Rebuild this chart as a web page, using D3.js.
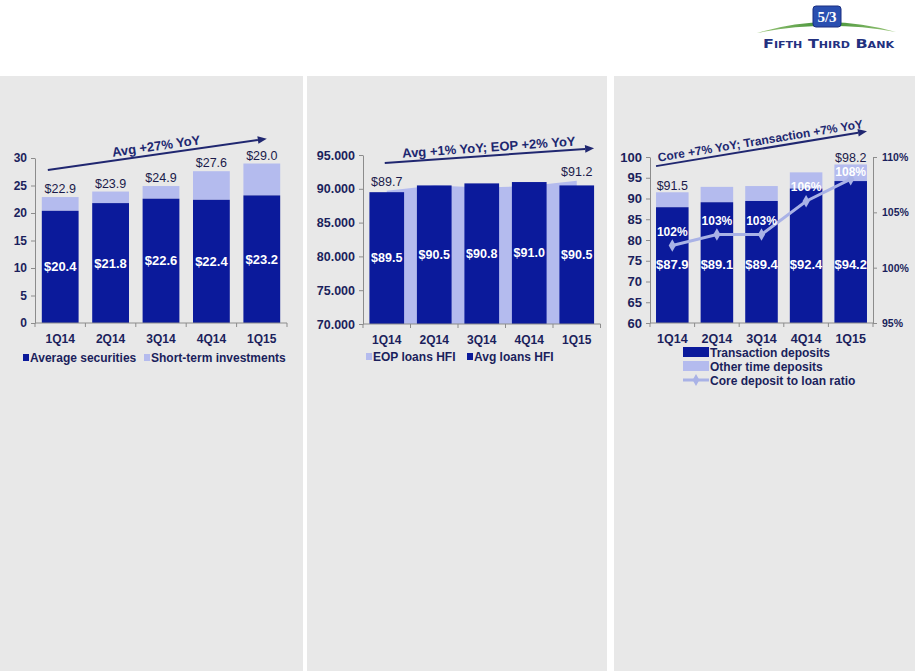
<!DOCTYPE html>
<html><head><meta charset="utf-8">
<script src="https://cdn.jsdelivr.net/npm/d3@7"></script>
<style>body{margin:0;background:#fff;} svg{display:block;}</style>
</head><body>
<svg id="c" width="915" height="671"></svg>
<script>
// ---------- DATA ----------
const quarters = ["1Q14","2Q14","3Q14","4Q14","1Q15"];

// Chart 1: securities
const avgSecurities   = [20.4, 21.8, 22.6, 22.4, 23.2];
const shortTermInv    = [2.5, 2.1, 2.3, 5.2, 5.8];
const totalSecurities = [22.9, 23.9, 24.9, 27.6, 29.0];
const secTicks        = [0, 5, 10, 15, 20, 25, 30];
const secTickLabels   = ["0","5","10","15","20","25","30"];

// Chart 2: loans
const avgLoans        = [89.5, 90.5, 90.8, 91.0, 90.5];
const eopLoans        = [89.7, 90.5, 90.2, 90.4, 91.2];
const eopLabelIdx     = [0, 4];
const loanTicks       = [70, 75, 80, 85, 90, 95];
const loanTickLabels  = ["70.000","75.000","80.000","85.000","90.000","95.000"];

// Chart 3: deposits
const transactionDep  = [87.9, 89.1, 89.4, 92.4, 94.2];
const otherTimeDep    = [3.6, 3.7, 3.6, 3.9, 4.0];
const depositTotals   = [91.5, 92.8, 93.0, 96.3, 98.2];
const depTotalLabelIdx = [0, 4];
const coreRatio       = [102, 103, 103, 106, 108];
const ratioLabels     = ["102%","103%","103%","106%","108%"];
const depTicks        = [60, 65, 70, 75, 80, 85, 90, 95, 100];
const depTickLabels   = ["60","65","70","75","80","85","90","95","100"];
const ratioTicks      = [95, 100, 105, 110];
const ratioTickLabels = ["95%","100%","105%","110%"];

// ---------- STYLE ----------
const C = {dark:"#0b1a9b", light:"#b4bbee", line:"#a9b2e6", navy:"#1b1f5c",
           total:"#1a1a4a", axis:"#8c8c8c", arrow:"#202770", panel:"#e8e8e8"};
const FONT = '"Liberation Sans", Arial, Helvetica, sans-serif';
const fmt1 = d3.format(".1f");

const svg = d3.select("#c").attr("font-family", FONT);

// panels
[[0,303],[307,607],[614,915]].forEach(([a,b]) =>
  svg.append("rect").attr("x",a).attr("y",76).attr("width",b-a).attr("height",671-76).attr("fill",C.panel));

// ---------- LOGO ----------
const logo = svg.append("g");
const grad = svg.append("defs").append("linearGradient").attr("id","sw").attr("x1","0").attr("x2","1");
grad.append("stop").attr("offset","0").attr("stop-color","#9cc77a");
grad.append("stop").attr("offset","0.5").attr("stop-color","#3f8f33");
grad.append("stop").attr("offset","1").attr("stop-color","#9cc77a");
logo.append("path").attr("d","M757,33 Q826,12 896,32 Q826,19 757,33 Z").attr("fill","url(#sw)");
logo.append("rect").attr("x",813).attr("y",6).attr("width",28).attr("height",21).attr("rx",3)
  .attr("fill","#2a4fb0").attr("stroke","#1a2f80").attr("stroke-width",1);
logo.append("text").attr("x",827).attr("y",22).attr("text-anchor","middle")
  .attr("font-family","'Liberation Serif', serif").attr("font-weight","bold").attr("font-size",15)
  .attr("fill","#fff").text("5/3");
logo.append("text").attr("x",763).attr("y",48).attr("textLength",131).attr("lengthAdjust","spacingAndGlyphs")
  .attr("font-family","'DejaVu Sans', sans-serif").attr("font-size",13).attr("font-weight","bold")
  .attr("font-variant","small-caps").attr("fill","#23317f").text("Fifth Third Bank");

// ---------- HELPERS ----------
function yAxis(g, y, x0, ticks, labels, side, fs){
  const ax = (side === "left" ? d3.axisLeft(y) : d3.axisRight(y))
    .tickValues(ticks).tickFormat((d,i) => labels[i]).tickSize(4).tickSizeOuter(0).tickPadding(side==="left"?4:5);
  const a = g.append("g").attr("transform", `translate(${x0},0)`).call(ax);
  a.select(".domain").attr("stroke", C.axis);
  a.selectAll(".tick line").attr("stroke", C.axis);
  a.selectAll(".tick text").attr("fill", C.navy).attr("font-weight","bold")
    .attr("font-size", fs).attr("font-family", FONT);
}
function xAxis(g, x, y0, fs){
  const [r0, r1] = x.range();
  g.append("line").attr("x1",r0).attr("x2",r1).attr("y1",y0).attr("y2",y0).attr("stroke",C.axis);
  const step = x.step();
  g.selectAll(null).data(d3.range(x.domain().length + 1)).join("line")
    .attr("x1", i => r0 + i*step).attr("x2", i => r0 + i*step)
    .attr("y1", y0).attr("y2", y0 + 4).attr("stroke", C.axis);
  g.selectAll(null).data(x.domain()).join("text")
    .attr("x", d => x(d) + x.bandwidth()/2).attr("y", y0 + 20)
    .attr("text-anchor","middle").attr("font-size", fs).attr("font-weight","bold")
    .attr("fill", C.navy).text(d => d);
}
function arrow(g, x1, y1, x2, y2, text, fs){
  const ang = Math.atan2(y2 - y1, x2 - x1), deg = ang * 180 / Math.PI;
  const L = 9, W = 3.8;
  const xe = x2 - L*Math.cos(ang), ye = y2 - L*Math.sin(ang);
  const px = -Math.sin(ang), py = Math.cos(ang);
  g.append("line").attr("x1",x1).attr("y1",y1).attr("x2",xe).attr("y2",ye)
    .attr("stroke",C.arrow).attr("stroke-width",2);
  g.append("polygon").attr("points",
    [[x2,y2],[xe+W*px, ye+W*py],[xe-W*px, ye-W*py]].map(p => p.join(",")).join(" "))
    .attr("fill",C.arrow);
  g.append("text").attr("transform",`translate(${(x1+x2)/2},${(y1+y2)/2}) rotate(${deg})`)
    .attr("y",-4).attr("text-anchor","middle").attr("font-size",fs).attr("font-weight","bold")
    .attr("fill",C.arrow).text(text);
}
function band(range){
  return d3.scaleBand().domain(quarters).range(range).paddingInner(0.27).paddingOuter(0.135);
}

// ---------- CHART 1 ----------
{
  const g = svg.append("g");
  const x = band([35, 287]);
  const y = d3.scaleLinear().domain([0, 30]).range([323, 158]);
  const bw = x.bandwidth();
  const rows = quarters.map((q,i) => ({q, a:avgSecurities[i], s:shortTermInv[i], t:totalSecurities[i]}));
  g.selectAll(null).data(rows).join("rect")
    .attr("x", d => x(d.q)).attr("width", bw)
    .attr("y", d => y(d.a + d.s)).attr("height", d => y(d.a) - y(d.a + d.s)).attr("fill", C.light);
  g.selectAll(null).data(rows).join("rect")
    .attr("x", d => x(d.q)).attr("width", bw)
    .attr("y", d => y(d.a)).attr("height", d => y(0) - y(d.a)).attr("fill", C.dark);
  yAxis(g, y, 35, secTicks, secTickLabels, "left", 12);
  xAxis(g, x, y(0), 12);
  g.selectAll(null).data(rows).join("text")
    .attr("x", d => x(d.q) + bw/2).attr("y", d => y(d.a/2)).attr("dy","0.35em")
    .attr("text-anchor","middle").attr("font-size",13).attr("font-weight","bold").attr("fill","#fff")
    .text(d => "$" + fmt1(d.a));
  g.selectAll(null).data(rows).join("text")
    .attr("x", d => x(d.q) + bw/2).attr("y", d => y(d.t) - 4)
    .attr("text-anchor","middle").attr("font-size",12.5).attr("fill",C.total)
    .text(d => "$" + fmt1(d.t));
  arrow(g, x("1Q14") + 6, y(27.8), x("1Q15") + bw/2 + 5, y(33.5), "Avg +27% YoY", 13);
  // legend
  const ly = 358;
  const leg = [{c:C.dark, t:"Average securities", x:23}, {c:C.light, t:"Short-term investments", x:144}];
  leg.forEach(l => {
    g.append("rect").attr("x", l.x).attr("y", ly - 4).attr("width", 6).attr("height", 7).attr("fill", l.c);
    g.append("text").attr("x", l.x + 7).attr("y", ly + 4).attr("font-size", 12).attr("font-weight","bold")
      .attr("fill", C.navy).text(l.t);
  });
}

// ---------- CHART 2 ----------
{
  const g = svg.append("g");
  const x = band([363, 600.5]);
  const y = d3.scaleLinear().domain([70, 95]).range([324, 155]);
  const bw = x.bandwidth();
  const cx = q => x(q) + bw/2;
  const rows = quarters.map((q,i) => ({q, a:avgLoans[i], e:eopLoans[i]}));
  g.append("path").datum(rows)
    .attr("d", d3.area().x(d => cx(d.q)).y0(y(70)).y1(d => y(d.e)))
    .attr("fill", C.light);
  g.selectAll(null).data(rows).join("rect")
    .attr("x", d => x(d.q)).attr("width", bw)
    .attr("y", d => y(d.a)).attr("height", d => y(70) - y(d.a)).attr("fill", C.dark);
  yAxis(g, y, 363, loanTicks, loanTickLabels, "left", 12.5);
  xAxis(g, x, y(70), 12);
  g.selectAll(null).data(rows).join("text")
    .attr("x", d => cx(d.q)).attr("y", d => y((70 + d.a)/2)).attr("dy","0.35em")
    .attr("text-anchor","middle").attr("font-size",12.5).attr("font-weight","bold").attr("fill","#fff")
    .text(d => "$" + fmt1(d.a));
  g.selectAll(null).data(eopLabelIdx.map(i => rows[i])).join("text")
    .attr("x", d => cx(d.q)).attr("y", d => y(d.e) - 5)
    .attr("text-anchor","middle").attr("font-size",12.5).attr("fill",C.total)
    .text(d => "$" + fmt1(d.e));
  arrow(g, cx("1Q14") - 2, y(93.8), x("1Q15") + bw, y(96.0), "Avg +1% YoY; EOP +2% YoY", 13);
  const ly = 357;
  const leg = [{c:C.light, t:"EOP loans HFI", x:366}, {c:C.dark, t:"Avg loans HFI", x:467}];
  leg.forEach(l => {
    g.append("rect").attr("x", l.x).attr("y", ly - 4).attr("width", 6).attr("height", 7).attr("fill", l.c);
    g.append("text").attr("x", l.x + 7).attr("y", ly + 4).attr("font-size", 12).attr("font-weight","bold")
      .attr("fill", C.navy).text(l.t);
  });
}

// ---------- CHART 3 ----------
{
  const g = svg.append("g");
  const x = band([650, 873]);
  const y = d3.scaleLinear().domain([60, 100]).range([323, 157]);
  const y2 = d3.scaleLinear().domain([95, 110]).range([323, 157]);
  const bw = x.bandwidth();
  const cx = q => x(q) + bw/2;
  const rows = quarters.map((q,i) => ({q, i, t:transactionDep[i], o:otherTimeDep[i], tot:depositTotals[i], r:coreRatio[i], rl:ratioLabels[i]}));
  g.selectAll(null).data(rows).join("rect")
    .attr("x", d => x(d.q)).attr("width", bw)
    .attr("y", d => y(d.t + d.o)).attr("height", d => y(d.t) - y(d.t + d.o)).attr("fill", C.light);
  g.selectAll(null).data(rows).join("rect")
    .attr("x", d => x(d.q)).attr("width", bw)
    .attr("y", d => y(d.t)).attr("height", d => y(60) - y(d.t)).attr("fill", C.dark);
  yAxis(g, y, 650, depTicks, depTickLabels, "left", 13);
  yAxis(g, y2, 873, ratioTicks, ratioTickLabels, "right", 10.5);
  xAxis(g, x, y(60), 12.5);
  // ratio line
  g.append("path").datum(rows)
    .attr("d", d3.line().x(d => cx(d.q)).y(d => y2(d.r)))
    .attr("fill","none").attr("stroke", C.line).attr("stroke-width", 3);
  g.selectAll(null).data(rows).join("path")
    .attr("transform", d => `translate(${cx(d.q)},${y2(d.r)})`)
    .attr("d", d3.symbol(d3.symbolDiamond, 45)).attr("fill", C.line);
  // ratio labels: above the point, but kept clear of a total label in the same column
  const totalBase = d => y(d.tot) - 2;
  const ratioY = d => {
    let v = y2(d.r) - 14;
    if (depTotalLabelIdx.includes(d.i)) v = Math.max(v, totalBase(d) + 9);
    return v;
  };
  g.selectAll(null).data(rows).join("text")
    .attr("x", d => cx(d.q)).attr("y", ratioY).attr("dy","0.35em")
    .attr("text-anchor","middle").attr("font-size",12).attr("font-weight","bold").attr("fill","#fff")
    .text(d => d.rl);
  // value labels
  g.selectAll(null).data(rows).join("text")
    .attr("x", d => cx(d.q)).attr("y", y(74)).attr("dy","0.35em")
    .attr("text-anchor","middle").attr("font-size",13).attr("font-weight","bold").attr("fill","#fff")
    .text(d => "$" + fmt1(d.t));
  g.selectAll(null).data(depTotalLabelIdx.map(i => rows[i])).join("text")
    .attr("x", d => cx(d.q)).attr("y", totalBase)
    .attr("text-anchor","middle").attr("font-size",12.5).attr("fill",C.total)
    .text(d => "$" + fmt1(d.tot));
  arrow(g, x("1Q14"), y(97.8), x("1Q15") + bw, y(106.2), "Core +7% YoY; Transaction +7% YoY", 12);
  // legend
  const lx = 683;
  const leg = ["Transaction deposits","Other time deposits","Core deposit to loan ratio"];
  const lys = [352, 366, 380];
  g.append("rect").attr("x", lx).attr("y", lys[0]-5).attr("width", 26).attr("height", 10).attr("fill", C.dark);
  g.append("rect").attr("x", lx).attr("y", lys[1]-5).attr("width", 26).attr("height", 10).attr("fill", C.light);
  g.append("line").attr("x1", lx).attr("x2", lx+26).attr("y1", lys[2]).attr("y2", lys[2])
    .attr("stroke", C.line).attr("stroke-width", 3);
  g.append("path").attr("transform", `translate(${lx+13},${lys[2]})`)
    .attr("d", d3.symbol(d3.symbolDiamond, 40)).attr("fill", C.line);
  leg.forEach((t,i) => g.append("text").attr("x", lx + 27).attr("y", lys[i] + 4.5)
    .attr("font-size", 12).attr("font-weight","bold").attr("fill", C.navy).text(t));
}
</script>
</body></html>
